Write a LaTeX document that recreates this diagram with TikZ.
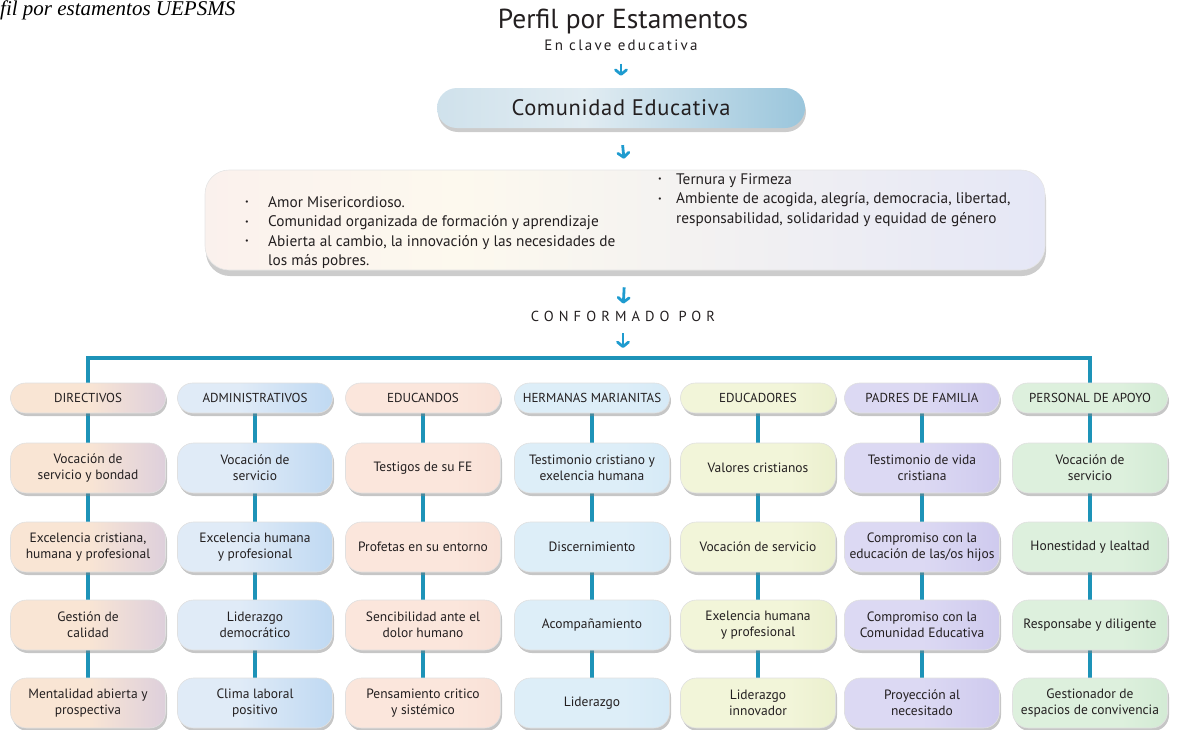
\documentclass[tikz,border=0pt]{standalone}
\usepackage{fontspec}
\setmainfont{PT Sans}
\newfontfamily\capfont{Liberation Serif}
\usetikzlibrary{shadows,arrows.meta,backgrounds}

\definecolor{linec}{HTML}{1D93B8}
\definecolor{arrc}{HTML}{1E9BCF}
\definecolor{txt}{HTML}{231F20}
% column colours
\definecolor{dA}{HTML}{F9E5D4}\definecolor{dB}{HTML}{C2BAE3}
\definecolor{aA}{HTML}{E0EBF7}\definecolor{aB}{HTML}{A4CAEE}
\definecolor{eA}{HTML}{FBE6DC}\definecolor{eB}{HTML}{F4D8CE}
\definecolor{hA}{HTML}{DDEEF8}\definecolor{hB}{HTML}{CAE3F5}
\definecolor{uA}{HTML}{F2F5D9}\definecolor{uB}{HTML}{DFE7BC}
\definecolor{pA}{HTML}{DCD9F3}\definecolor{pB}{HTML}{C1BBE9}
\definecolor{sA}{HTML}{DDF0DD}\definecolor{sB}{HTML}{C2E2C6}
% big boxes
\definecolor{bg1}{HTML}{F6E3EC}\definecolor{bg2}{HTML}{FDF9EE}
\definecolor{bg3}{HTML}{E5E7F6}\definecolor{bg4}{HTML}{F5E8EE}
\definecolor{cm1}{HTML}{B9D4E3}\definecolor{cm2}{HTML}{E1ECF2}
\definecolor{cm3}{HTML}{8EBFD8}\definecolor{cm4}{HTML}{A9CEE1}

\pgfdeclarehorizontalshading{shD}{100bp}{color(0bp)=(dA); color(50bp)=(dA); color(100bp)=(dB)}
\pgfdeclarehorizontalshading{shA}{100bp}{color(0bp)=(aA); color(45bp)=(aA); color(100bp)=(aB)}
\pgfdeclarehorizontalshading{shE}{100bp}{color(0bp)=(eA); color(60bp)=(eA); color(100bp)=(eB)}
\pgfdeclarehorizontalshading{shH}{100bp}{color(0bp)=(hA); color(60bp)=(hA); color(100bp)=(hB)}
\pgfdeclarehorizontalshading{shU}{100bp}{color(0bp)=(uA); color(60bp)=(uA); color(100bp)=(uB)}
\pgfdeclarehorizontalshading{shP}{100bp}{color(0bp)=(pA); color(50bp)=(pA); color(100bp)=(pB)}
\pgfdeclarehorizontalshading{shS}{100bp}{color(0bp)=(sA); color(60bp)=(sA); color(100bp)=(sB)}
\pgfdeclarehorizontalshading{shBig}{100bp}{color(0bp)=(bg1); color(40bp)=(bg2); color(75bp)=(bg3); color(100bp)=(bg4)}
\pgfdeclarehorizontalshading{shCom}{100bp}{color(0bp)=(cm1); color(45bp)=(cm2); color(80bp)=(cm3); color(100bp)=(cm4)}

\tikzset{
  conn/.style={draw=linec, line width=4pt},
  arr/.style={draw=arrc, line width=2.8pt, -{Straight Barb[round,length=4.5pt,width=11pt]}},
  cbox/.style={rounded corners=16pt, minimum width=155pt, minimum height=50pt,
    inner sep=2pt, align=center, text=txt, font=\fontsize{13.5}{16}\selectfont,
    draw=black!12, line width=.6pt,
    drop shadow={shadow xshift=1.5pt, shadow yshift=-3pt, opacity=.45}},
  hbox/.style={cbox, minimum height=30pt, rounded corners=15pt, font=\fontsize{13}{15}\selectfont},
  cD/.style={shade, shading=shD}, cA/.style={shade, shading=shA},
  cE/.style={shade, shading=shE}, cH/.style={shade, shading=shH},
  cU/.style={shade, shading=shU}, cP/.style={shade, shading=shP},
  cS/.style={shade, shading=shS},
  bul/.style={inner sep=0, anchor=north west, text=txt, font=\fontsize{15.3}{19.5}\selectfont},
}
\newcommand\bt{\raisebox{2.5pt}{\fontsize{8}{8}\selectfont•}}

\begin{document}
\begin{tikzpicture}[x=1pt,y=-1pt]
\useasboundingbox (0,0) rectangle (1181,729);

\node[anchor=base west, inner sep=0, font=\capfont\itshape\fontsize{21}{23}\selectfont] (cap) at (0,15) {fil por estamentos UEPSMS};

\node[text=txt, inner sep=0, font=\fontsize{27.5}{30}\selectfont] (title) at (623,22) {Perfil por Estamentos};
\node[text=txt, inner sep=0, font=\fontsize{15}{17}\selectfont\addfontfeature{LetterSpace=15}] (sub) at (621,45) {En clave educativa};

\node[shade, shading=shCom, rounded corners=20pt, minimum width=368pt, minimum height=40pt,
  text=txt, font=\fontsize{22.5}{25}\selectfont\addfontfeature{LetterSpace=3},
  drop shadow={shadow xshift=1pt, shadow yshift=-4pt, opacity=.4}] (com) at (621,108) {Comunidad Educativa};

\node[shade, shading=shBig, rounded corners=24pt, minimum width=840pt, minimum height=100pt,
  draw=black!10, line width=.6pt,
  drop shadow={shadow xshift=1pt, shadow yshift=-6pt, opacity=.4}] (big) at (625,220) {};

\node[bul] (bl) at (245,193.5) {\begin{tabular}{@{}p{23pt}@{}l@{}}
\bt & Amor Misericordioso.\\
\bt & Comunidad organizada de formación y aprendizaje\\
\bt & Abierta al cambio, la innovación y las necesidades de\\
    & los más pobres.
\end{tabular}};
\node[bul] (br) at (658,170.5) {\begin{tabular}{@{}p{18pt}@{}l@{}}
\bt & Ternura y Firmeza\\
\bt & Ambiente de acogida, alegría, democracia, libertad,\\
    & responsabilidad, solidaridad y equidad de género
\end{tabular}};

\node[text=txt, inner sep=0, font=\fontsize{14.5}{16}\selectfont\addfontfeature{LetterSpace=35}] (conf) at (623,316) {CONFORMADO POR};
\coordinate (hl) at (623,358);

\draw[arr, shorten <=13pt, shorten >=12pt] (sub.south) -- (com.north);
\draw[arr, shorten <=17pt, shorten >=11pt] (com.south) -- (big.north);
\draw[arr, shorten <=17pt, shorten >=7pt] (big.south) -- (conf.north);
\draw[arr, shorten <=12pt, shorten >=10pt] (conf.south) -- (hl);

% column 1
\node[hbox,cD] (h1) at (88,398) {DIRECTIVOS};
\node[cbox,cD] (r11) at (88,468) {Vocación de\\servicio y bondad};
\node[cbox,cD] (r12) at (88,547) {Excelencia cristiana,\\humana y profesional};
\node[cbox,cD] (r13) at (88,625) {Gestión de\\calidad};
\node[cbox,cD] (r14) at (88,703) {Mentalidad abierta y\\prospectiva};
% column 2
\node[hbox,cA] (h2) at (255,398) {ADMINISTRATIVOS};
\node[cbox,cA] (r21) at (255,468) {Vocación de\\servicio};
\node[cbox,cA] (r22) at (255,547) {Excelencia humana\\y profesional};
\node[cbox,cA] (r23) at (255,625) {Liderazgo\\democrático};
\node[cbox,cA] (r24) at (255,703) {Clima laboral\\positivo};
% column 3
\node[hbox,cE] (h3) at (423,398) {EDUCANDOS};
\node[cbox,cE] (r31) at (423,468) {Testigos de su FE};
\node[cbox,cE] (r32) at (423,547) {Profetas en su entorno};
\node[cbox,cE] (r33) at (423,625) {Sencibilidad ante el\\dolor humano};
\node[cbox,cE] (r34) at (423,703) {Pensamiento critico\\y sistémico};
% column 4
\node[hbox,cH] (h4) at (592,398) {HERMANAS MARIANITAS};
\node[cbox,cH] (r41) at (592,468) {Testimonio cristiano y\\exelencia humana};
\node[cbox,cH] (r42) at (592,547) {Discernimiento};
\node[cbox,cH] (r43) at (592,625) {Acompañamiento};
\node[cbox,cH] (r44) at (592,703) {Liderazgo};
% column 5
\node[hbox,cU] (h5) at (758,398) {EDUCADORES};
\node[cbox,cU] (r51) at (758,468) {Valores cristianos};
\node[cbox,cU] (r52) at (758,547) {Vocación de servicio};
\node[cbox,cU] (r53) at (758,625) {Exelencia humana\\y profesional};
\node[cbox,cU] (r54) at (758,703) {Liderazgo\\innovador};
% column 6
\node[hbox,cP] (h6) at (922,398) {PADRES DE FAMILIA};
\node[cbox,cP] (r61) at (922,468) {Testimonio de vida\\cristiana};
\node[cbox,cP] (r62) at (922,547) {Compromiso con la\\educación de las/os hijos};
\node[cbox,cP] (r63) at (922,625) {Compromiso con la\\Comunidad Educativa};
\node[cbox,cP] (r64) at (922,703) {Proyección al\\necesitado};
% column 7
\node[hbox,cS] (h7) at (1090,398) {PERSONAL DE APOYO};
\node[cbox,cS] (r71) at (1090,468) {Vocación de\\servicio};
\node[cbox,cS] (r72) at (1090,547) {Honestidad y lealtad};
\node[cbox,cS] (r73) at (1090,625) {Responsabe y diligente};
\node[cbox,cS] (r74) at (1090,703) {Gestionador de\\espacios de convivencia};

\begin{scope}[on background layer]
  \draw[conn, line join=miter] (h1) |- (hl) -| (h7);
  \foreach \c in {1,...,7}
    \draw[conn] (h\c) -- (r\c1) -- (r\c2) -- (r\c3) -- (r\c4);
\end{scope}
\end{tikzpicture}
\end{document}
